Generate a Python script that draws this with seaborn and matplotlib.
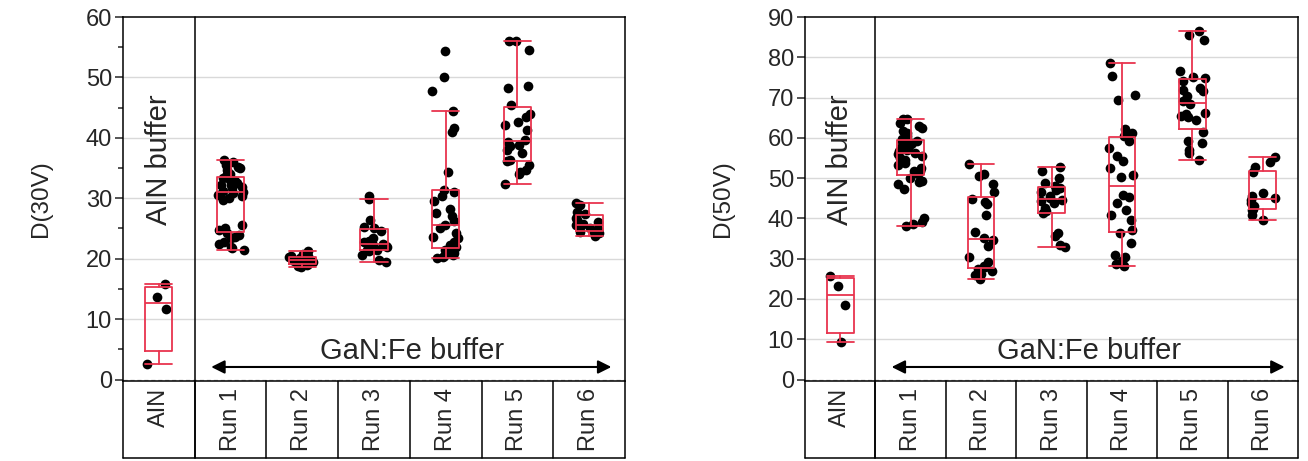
import numpy as np
import pandas as pd
import seaborn as sns
import matplotlib.pyplot as plt
from matplotlib import transforms
from matplotlib.ticker import MultipleLocator

categories = ["AIN", "Run 1", "Run 2", "Run 3", "Run 4", "Run 5", "Run 6"]

# D(30V) per group
ain_30 = [2.5, 11.7, 13.7, 15.8]
run1_30 = [21.5, 21.7, 22.0, 22.5, 22.8, 23.4, 23.6, 23.9, 24.3, 24.7, 25.0, 25.6,
           29.7, 30.0, 30.3, 30.6, 30.8, 31.0, 31.2, 31.7, 31.9, 32.2, 32.2, 32.5,
           32.8, 33.0, 33.3, 33.6, 34.1, 34.1, 34.7, 35.0, 35.2, 35.5, 36.0, 36.3]
run2_30 = [18.7, 18.8, 18.9, 19.0, 19.1, 19.2, 19.4, 19.5, 19.6, 19.7, 19.9, 19.9,
           20.0, 20.0, 20.1, 20.3, 20.4, 20.5, 20.7, 21.3]
run3_30 = [19.5, 19.8, 20.6, 21.2, 21.4, 21.5, 21.9, 22.1, 22.2, 22.3, 22.5, 22.7,
           23.0, 23.4, 24.6, 25.0, 25.3, 26.4, 29.8, 30.4]
run4_30 = [20.1, 20.3, 20.5, 20.6, 20.9, 21.2, 21.4, 21.7, 22.0, 22.3, 22.8, 23.4,
           23.6, 24.2, 25.0, 25.5, 26.2, 27.0, 27.5, 28.3, 29.5, 30.4, 31.0, 31.4,
           34.4, 41.0, 41.6, 44.5, 47.8, 50.0, 54.4]
run5_30 = [32.3, 34.1, 34.4, 34.7, 35.5, 36.1, 36.4, 37.5, 38.0, 38.6, 38.8, 39.3,
           39.7, 41.3, 42.2, 42.7, 43.5, 43.9, 45.5, 48.2, 48.5, 54.6, 56.0, 56.1]
run6_30 = [23.8, 24.2, 24.4, 24.5, 24.9, 25.0, 25.3, 25.5, 25.7, 26.1, 26.4, 26.7,
           27.4, 27.8, 28.9, 29.3]

# D(50V) per group
ain_50 = [9.2, 18.5, 23.3, 25.8]
run1_50 = [38.2, 38.6, 39.0, 40.2, 47.2, 48.5, 49.1, 49.3, 50.1, 51.1, 51.8, 51.8,
           52.6, 53.2, 53.8, 54.5, 55.0, 55.5, 56.0, 56.3, 56.7, 57.1, 57.4, 58.0,
           58.4, 58.7, 59.0, 59.2, 59.3, 59.8, 60.4, 61.3, 61.8, 62.5, 63.0, 63.8,
           64.6, 64.7]
run2_50 = [25.0, 26.0, 26.3, 27.0, 27.5, 27.9, 28.3, 29.1, 30.3, 33.1, 34.7, 35.1,
           36.7, 40.8, 43.5, 44.1, 44.8, 46.6, 48.5, 50.5, 51.1, 53.5]
run3_50 = [33.0, 33.4, 35.7, 36.4, 41.3, 41.9, 42.7, 43.9, 44.2, 44.6, 45.0, 45.6,
           46.6, 47.1, 47.6, 48.0, 48.9, 50.1, 51.8, 52.7]
run4_50 = [28.3, 28.8, 29.5, 30.3, 30.8, 34.0, 36.5, 37.2, 39.7, 40.8, 42.1, 43.9,
           45.2, 45.8, 50.4, 50.7, 52.6, 54.3, 55.5, 57.5, 59.2, 60.5, 61.3, 62.1,
           69.5, 70.7, 75.4, 78.6]
run5_50 = [54.5, 56.3, 57.1, 58.8, 59.2, 61.5, 64.5, 65.2, 65.4, 65.8, 66.2, 68.3,
           69.1, 70.3, 71.6, 72.0, 72.4, 74.2, 74.9, 75.1, 76.7, 84.3, 85.6, 86.6]
run6_50 = [39.5, 40.8, 42.0, 42.4, 43.1, 43.9, 44.6, 45.0, 45.6, 46.4, 51.5, 52.8,
           54.1, 55.2]

groups_30 = [ain_30, run1_30, run2_30, run3_30, run4_30, run5_30, run6_30]
groups_50 = [ain_50, run1_50, run2_50, run3_50, run4_50, run5_50, run6_50]

RED = "#e8344e"

sns.set_style("ticks")
plt.rcParams["font.family"] = ["Liberation Sans", "DejaVu Sans"]


def box_stats(vals):
    v = np.sort(np.asarray(vals, dtype=float))
    q1, med, q3 = np.percentile(v, [25, 50, 75], method="weibull")
    iqr = q3 - q1
    lo = v[v >= q1 - 1.5 * iqr].min()
    hi = v[v <= q3 + 1.5 * iqr].max()
    return dict(med=med, q1=q1, q3=q3, whislo=lo, whishi=hi, fliers=[])


def draw_panel(ax, groups, ymax, ylabel, minor):
    df = pd.DataFrame({
        "group": np.repeat(categories, [len(g) for g in groups]),
        "value": np.concatenate(groups),
    })
    sns.stripplot(data=df, x="group", y="value", order=categories, color="black",
                  size=7, jitter=0.19, linewidth=0, ax=ax, zorder=2)
    lp = dict(color=RED, lw=1.3)
    ax.bxp([box_stats(g) for g in groups], positions=range(len(categories)),
           widths=0.38, capwidths=0.38, showfliers=False, manage_ticks=False,
           boxprops=lp, whiskerprops=lp, capprops=lp, medianprops=lp, zorder=3)

    ax.set_xlim(-0.5, len(categories) - 0.5)
    ax.set_ylim(-ymax * 0.004, ymax)
    ax.yaxis.set_major_locator(MultipleLocator(10))
    if minor:
        ax.yaxis.set_minor_locator(MultipleLocator(5))
    for y in range(10, ymax, 10):
        ax.axhline(y, color="#d9d9d9", lw=1.0, zorder=0)
    ax.axhline(0, color="#b0b0b0", lw=1.0, ls=(0, (3, 2)), zorder=1)

    ax.set_xticks(range(len(categories)))
    ax.set_xticklabels(categories, rotation=90, fontsize=17)
    ax.tick_params(axis="x", length=0, pad=5)
    ax.tick_params(axis="y", which="major", labelsize=17, length=6, width=1.1,
                   direction="out", pad=2)
    ax.tick_params(axis="y", which="minor", length=3.5, width=1.1, direction="out")
    ax.set_xlabel("")
    ax.set_ylabel(ylabel, fontsize=17.5, labelpad=24)
    for s in ax.spines.values():
        s.set_visible(True)
        s.set_color("black")
        s.set_linewidth(1.1)

    # group separator and category table under the axis
    trans = transforms.blended_transform_factory(ax.transData, ax.transAxes)
    ybot = -0.2115
    ax.plot([0.5, 0.5], [ybot, 1], color="black", lw=1.1, transform=trans,
            clip_on=False, zorder=4)
    for xb in np.arange(-0.5, len(categories), 1.0):
        ax.plot([xb, xb], [ybot, 0], color="black", lw=1.1, transform=trans,
                clip_on=False)
    ax.plot([-0.5, len(categories) - 0.5], [ybot, ybot], color="black", lw=1.1,
            transform=trans, clip_on=False)

    ax.text(0, 0.607, "AIN buffer", rotation=90, fontsize=21, ha="center",
            va="center", transform=trans)
    ax.text(3.53, 0.082, "GaN:Fe buffer", fontsize=21, ha="center", va="center",
            transform=trans)
    ax.annotate("", xy=(0.73, 0.0385), xytext=(6.31, 0.0385), xycoords=trans,
                textcoords=trans,
                arrowprops=dict(arrowstyle="<|-|>", color="black", lw=1.5,
                                mutation_scale=20, shrinkA=0, shrinkB=0))


np.random.seed(7)
fig = plt.figure(figsize=(13.08, 4.61), dpi=100)
ax1 = fig.add_axes([123 / 1308, 80 / 461, 502 / 1308, 364 / 461])
ax2 = fig.add_axes([805 / 1308, 80 / 461, 493 / 1308, 364 / 461])

draw_panel(ax1, groups_30, 60, "D(30V)", minor=True)
draw_panel(ax2, groups_50, 90, "D(50V)", minor=False)

fig.savefig("out.png", dpi=100)
